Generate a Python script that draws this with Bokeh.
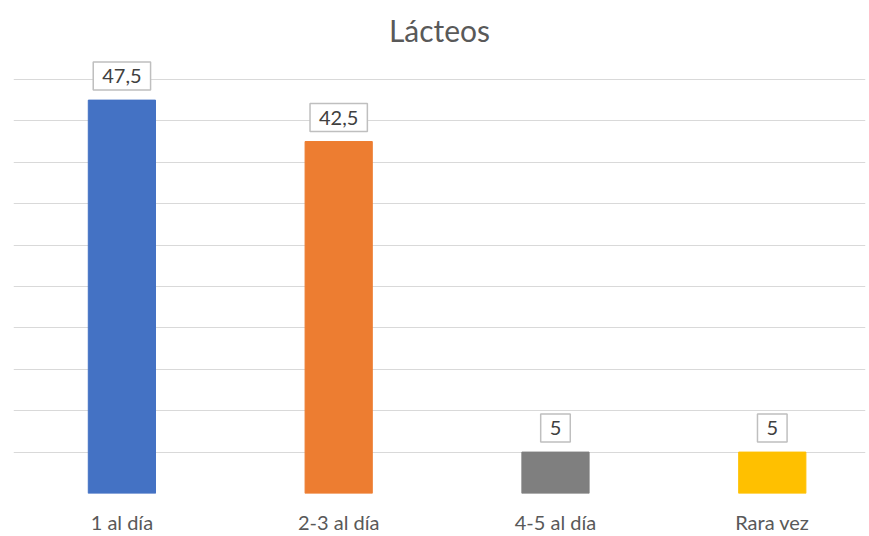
from bokeh.plotting import figure
from bokeh.models import Range1d, FixedTicker, ColumnDataSource
from bokeh.core.properties import value
from bokeh.embed import file_html
from bokeh.resources import INLINE

categories = ["1 al día", "2-3 al día", "4-5 al día", "Rara vez"]
values = [47.5, 42.5, 5, 5]
labels = ["47,5", "42,5", "5", "5"]
colors = ["#4472C4", "#ED7D31", "#7F7F7F", "#FFC000"]
grid_ticks = [0, 5, 10, 15, 20, 25, 30, 35, 40, 45, 50]

FONT = "Lato"

x = list(range(len(categories)))
src = ColumnDataSource(dict(x=x, top=values, label=labels, color=colors))

p = figure(width=869, height=536, output_backend="svg", toolbar_location=None,
           x_range=Range1d(-0.5, 3.43), y_range=Range1d(0, 53.25),
           min_border_left=13, min_border_right=4, min_border_top=52, min_border_bottom=41)

p.title.text = "Lácteos"
p.title.align = "center"
p.title.text_font = FONT
p.title.text_font_size = "30px"
p.title.text_font_style = "normal"
p.title.text_color = "#595959"
p.title.standoff = 10

p.vbar(x="x", top="top", bottom=0, width=0.31, color="color", source=src)

p.text(x="x", y="top", text="label", source=src, text_align="center", text_baseline="middle",
       y_offset=-24, text_font=value(FONT), text_font_size="20px", text_color="#404040",
       background_fill_color="white", border_line_color="#bfbfbf", border_line_width=1.5,
       padding=dict(left=9, right=9, top=7, bottom=7))

p.yaxis.visible = False
p.xgrid.visible = False
p.ygrid.ticker = FixedTicker(ticks=grid_ticks)
p.ygrid.grid_line_color = "#d9d9d9"
p.ygrid.grid_line_width = 1
p.outline_line_color = None

p.xaxis.ticker = FixedTicker(ticks=x)
p.xaxis.major_label_overrides = {i: c for i, c in zip(x, categories)}
p.xaxis.axis_line_color = None
p.xaxis.major_tick_line_color = None
p.xaxis.minor_tick_line_color = None
p.xaxis.major_tick_out = 0
p.xaxis.major_label_standoff = 16
p.xaxis.major_label_text_font = FONT
p.xaxis.major_label_text_font_size = "20px"
p.xaxis.major_label_text_color = "#595959"

open("out.html", "w").write(file_html(p, INLINE))
